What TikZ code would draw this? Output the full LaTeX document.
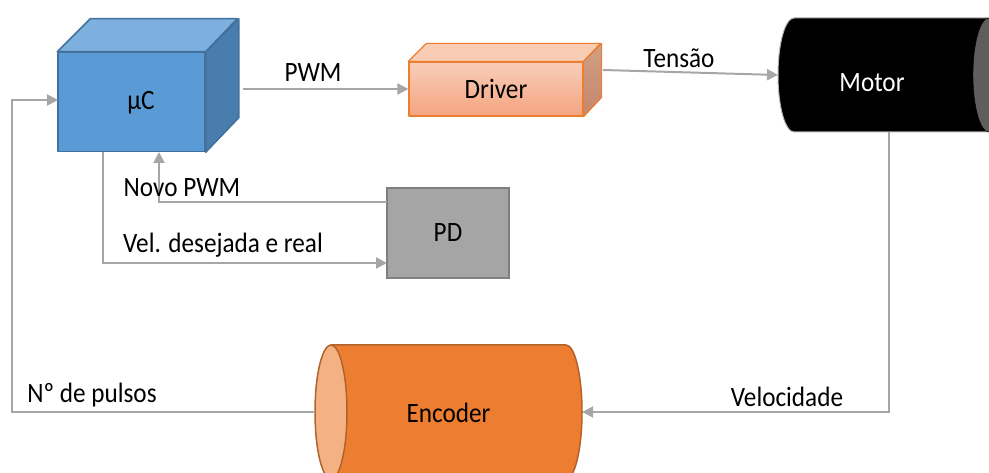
\documentclass[tikz,border=0pt]{standalone}
\usepackage{fontspec}
\setmainfont{Carlito}[FakeStretch=0.9]
\usetikzlibrary{arrows.meta}
\definecolor{ucfront}{HTML}{5B9BD5}
\definecolor{uctop}{HTML}{7DAFDF}
\definecolor{ucside}{HTML}{487DAE}
\definecolor{ucline}{HTML}{41719C}
\definecolor{drvtop}{HTML}{F8CDB3}
\definecolor{drvfront}{HTML}{F4A47F}
\definecolor{drvside}{HTML}{C4876A}
\definecolor{drvline}{HTML}{ED7D31}
\definecolor{encbody}{HTML}{ED7D31}
\definecolor{enclight}{HTML}{F4B183}
\definecolor{encline}{HTML}{B2622A}
\definecolor{pdfill}{HTML}{A5A5A5}
\definecolor{pdline}{HTML}{7F7F7F}
\definecolor{wiregray}{HTML}{A6A6A6}
\definecolor{motorcap}{HTML}{5E5E5E}

\tikzset{
  txt/.style={font=\fontsize{28}{32}\selectfont, inner sep=0pt},
  wire/.style={draw=wiregray, line width=2pt, -{Triangle[length=11pt,width=11pt]}},
  ucface/.style={draw=ucline, line width=1.5pt, line join=round},
  drvface/.style={draw=drvline, line width=1.2pt, line join=round},
}

\begin{document}
\begin{tikzpicture}[x=1pt, y=-1pt]
\useasboundingbox (0,0) rectangle (989,473);

% uC block
\node[ucface, fill=ucfront, minimum width=147pt, minimum height=99pt] (uc) at (131.5,102) {};
\draw[ucface, fill=uctop] (uc.north west) -- ++(33pt,33pt) -- ++(147pt,0pt) -- (uc.north east) -- cycle;
\draw[ucface, fill=ucside] (uc.north east) -- ++(33pt,33pt) -- ++(0pt,-99pt) -- (uc.south east) -- cycle;
\node[txt] (uclbl) at (141,103) {µC};

% driver block
\node[drvface, top color=drvfront!55!white, bottom color=drvfront, txt, minimum width=174pt, minimum height=54pt] (drv) at (496,89) {Driver};
\draw[drvface, fill=drvtop] (drv.north west) -- ++(18pt,18pt) -- ++(174pt,0pt) -- (drv.north east) -- cycle;
\draw[drvface, top color=drvside!80!white, bottom color=drvside] (drv.north east) -- ++(18pt,18pt) -- ++(0pt,-54pt) -- (drv.south east) -- cycle;

% motor
\draw[fill=black, draw=gray!60, line width=1pt] (989,18) -- (794,18)
  arc[start angle=90, end angle=270, x radius=16pt, y radius=57pt] -- (989,132);
\fill[motorcap, draw=black] (989,75) ellipse[x radius=16pt, y radius=57pt];
\node[txt, text=white] (motor) at (872,83) {Motor};

% encoder
\draw[fill=encbody, draw=encline, line width=1.5pt] (331,345) -- (566,345)
  arc[start angle=90, end angle=-90, x radius=16pt, y radius=67pt] -- (331,479) -- cycle;
\draw[fill=enclight, draw=encline, line width=1.5pt] (331,412) ellipse[x radius=16pt, y radius=67pt];
\node[minimum width=267pt, minimum height=134pt, inner sep=0pt] (enc) at (448.5,412) {};
\node[txt] (enclbl) at (448.5,413) {Encoder};

% PD
\node[draw=pdline, fill=pdfill, line width=1.5pt, txt, minimum width=122pt, minimum height=90pt] (pd) at (448,233) {PD};

\coordinate (pwmout) at (243,89);
\coordinate (drvout) at (603,70);
\coordinate (motorin) at (778,75);
\coordinate (motorout) at (889,132);
\coordinate (loop) at (12,412);
\coordinate (ucin) at (58,100);
\coordinate (ucdown) at (103,152);
\coordinate (ucup) at (159,152);
\coordinate (pdin) at (387,263);
\coordinate (pdout) at (387,202);

\draw[wire] (pwmout) -- (drv.west);
\draw[wire] (drvout) -- (motorin);
\draw[wire] (motorout) |- (enc.east);
\draw[wire] (enc.west) -- (loop) |- (ucin);
\draw[wire] (ucdown) |- (pdin);
\draw[wire] (pdout) -| (ucup);

\node[txt] (lpwm) at (313,73) {PWM};
\node[txt] (lten) at (679,58) {Tensão};
\node[txt] (lvel) at (787,397) {Velocidade};
\node[txt] (lpul) at (92,395) {Nº de pulsos};
\node[txt] (ldes) at (223,245) {Vel. desejada e real};
\node[txt] (lnov) at (182,188) {Novo PWM};
\end{tikzpicture}
\end{document}
